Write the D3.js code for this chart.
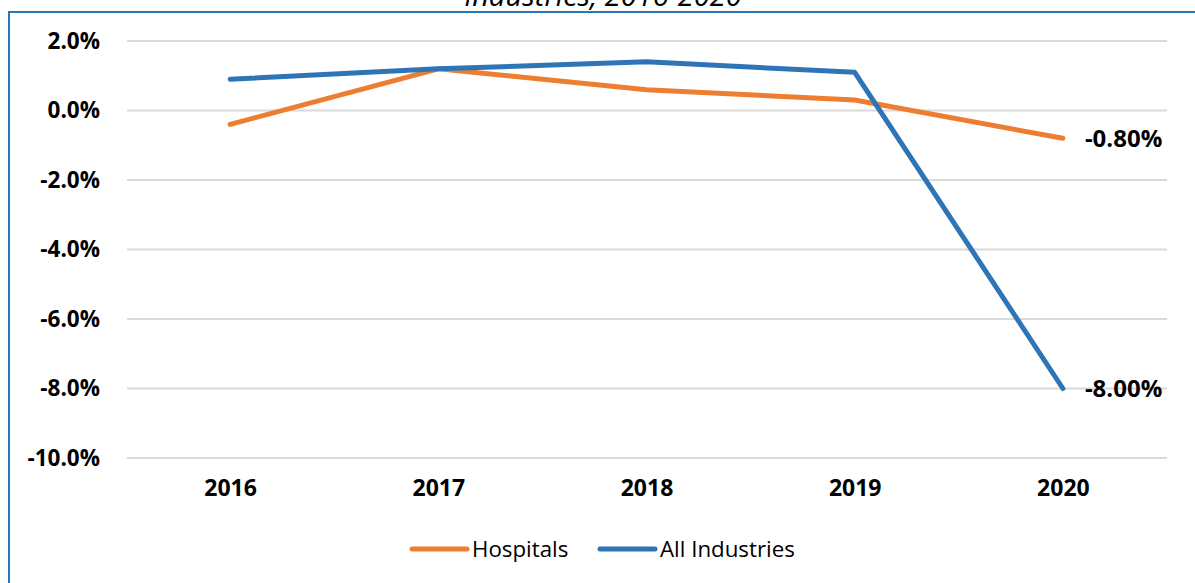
<!DOCTYPE html>
<html><head><meta charset="utf-8">
<script src="https://cdn.jsdelivr.net/npm/d3@7"></script>
<style>body{margin:0;background:#fff;} svg{display:block;}</style>
</head><body>
<svg id="c" width="1195" height="583"></svg>
<script>
const years = ["2016","2017","2018","2019","2020"];
const hospitals = [-0.4, 1.2, 0.6, 0.3, -0.8];
const allIndustries = [0.9, 1.2, 1.4, 1.1, -8.0];
const yTicks = [2, 0, -2, -4, -6, -8, -10];
const seriesNames = ["Hospitals", "All Industries"];
const colors = ["#ED7D31", "#2E75B6"];
const endLabels = ["-0.80%", "-8.00%"];

const svg = d3.select("#c");
const font = "'Open Sans', 'Noto Sans', sans-serif";

// border
svg.append("rect").attr("x",9).attr("y",12).attr("width",1200).attr("height",620)
  .attr("fill","none").attr("stroke","#2E75B6").attr("stroke-width",2);

// title (cut off at top, as in the source)
svg.append("text").attr("x",603).attr("y",6).attr("text-anchor","middle")
  .attr("font-family",font).attr("font-style","italic").attr("font-size",29)
  .attr("fill","#000").text("Industries, 2016-2020");

const x = d3.scalePoint().domain(years).range([126,1167]).padding(0.5);
const y = d3.scaleLinear().domain([-10,2]).range([458,41]);

// gridlines
svg.append("g").selectAll("line").data(yTicks).join("line")
  .attr("x1",127).attr("x2",1167).attr("y1",d=>y(d)).attr("y2",d=>y(d))
  .attr("stroke","#D9D9D9").attr("stroke-width",2);

// y axis labels
const yAxis = d3.axisLeft(y).tickValues(yTicks).tickFormat(d=>d.toFixed(1)+"%").tickSize(0).tickPadding(0);
const gy = svg.append("g").attr("transform","translate(100,0)").call(yAxis);
gy.select(".domain").remove();
gy.selectAll("text").attr("font-family",font).attr("font-weight","bold").attr("font-size",22.5).attr("fill","#000");

// x axis labels
const xAxis = d3.axisBottom(x).tickSize(0).tickPadding(0);
const gx = svg.append("g").attr("transform","translate(0,480)").call(xAxis);
gx.select(".domain").remove();
gx.selectAll("text").attr("font-family",font).attr("font-weight","bold").attr("font-size",23).attr("fill","#000");

// lines
const line = d3.line().x((d,i)=>x(years[i])).y(d=>y(d));
[hospitals, allIndustries].forEach((s,i)=>{
  svg.append("path").datum(s).attr("d",line).attr("fill","none")
    .attr("stroke",colors[i]).attr("stroke-width",5)
    .attr("stroke-linecap","round").attr("stroke-linejoin","round");
});

// end labels
[hospitals, allIndustries].forEach((s,i)=>{
  svg.append("text").attr("x",x(years[4])+22).attr("y",y(s[4])).attr("dy","0.35em")
    .attr("font-family",font).attr("font-weight","bold").attr("font-size",24)
    .attr("fill","#000").text(endLabels[i]);
});

// legend
const legX = [412, 600];
seriesNames.forEach((n,i)=>{
  const g = svg.append("g");
  g.append("line").attr("x1",legX[i]).attr("x2",legX[i]+55).attr("y1",549).attr("y2",549)
    .attr("stroke",colors[i]).attr("stroke-width",5).attr("stroke-linecap","round");
  g.append("text").attr("x",legX[i]+60).attr("y",549).attr("dy","0.35em")
    .attr("font-family",font).attr("font-size",22.3).attr("fill","#000").text(n);
});
</script>
</body></html>
